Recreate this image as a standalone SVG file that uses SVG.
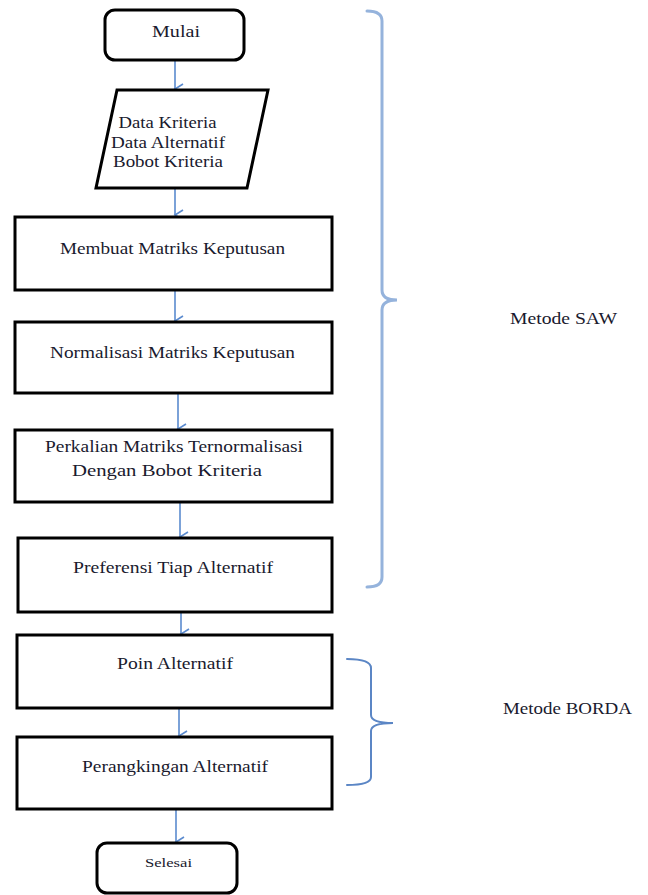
<svg xmlns="http://www.w3.org/2000/svg" width="648" height="895" viewBox="0 0 648 895">
<style>
.box{fill:#fff;stroke:#000;stroke-width:3}
.t{font-family:"Liberation Serif","Times New Roman",serif;font-size:17px;fill:#1a1a2e;text-anchor:middle}
.lbl{font-family:"Liberation Serif","Times New Roman",serif;font-size:17px;fill:#1a1a2e}
.arr{stroke:#5b8bcf;stroke-width:1.6;fill:none}
.brace{fill:none;stroke-linecap:round}
</style>
<defs>
<marker id="ah" viewBox="0 0 14 14" refX="7" refY="12" markerWidth="14" markerHeight="14" markerUnits="userSpaceOnUse" orient="auto-start-reverse">
<polyline points="2,4 7,12 12,4" fill="none" stroke="#5b8bcf" stroke-width="1.6"/>
</marker>
</defs>
<rect width="648" height="895" fill="#fff"/>
<g id="connectors">
<line class="arr" x1="175" y1="60" x2="175" y2="89" marker-end="url(#ah)"/>
<line class="arr" x1="175" y1="188" x2="175" y2="215" marker-end="url(#ah)"/>
<line class="arr" x1="175" y1="291" x2="175" y2="321" marker-end="url(#ah)"/>
<line class="arr" x1="178" y1="394" x2="178" y2="429" marker-end="url(#ah)"/>
<line class="arr" x1="180" y1="503" x2="180" y2="537" marker-end="url(#ah)"/>
<line class="arr" x1="181" y1="613" x2="181" y2="634" marker-end="url(#ah)"/>
<line class="arr" x1="179" y1="709" x2="179" y2="736" marker-end="url(#ah)"/>
<line class="arr" x1="176" y1="810" x2="176" y2="842" marker-end="url(#ah)"/>
</g>
<g id="mulai">
<rect class="box" x="105" y="10" width="139" height="50" rx="10"/>
<text class="t" x="176" y="37" textLength="48" lengthAdjust="spacingAndGlyphs">Mulai</text>
</g>
<g id="input">
<polygon class="box" points="117,90 268,90 247,188 96,188"/>
<text class="t" x="167.5" y="128" textLength="98" lengthAdjust="spacingAndGlyphs">Data Kriteria</text>
<text class="t" x="168" y="148" textLength="114" lengthAdjust="spacingAndGlyphs">Data Alternatif</text>
<text class="t" x="168" y="167" textLength="110" lengthAdjust="spacingAndGlyphs">Bobot Kriteria</text>
</g>
<g id="membuat">
<rect class="box" x="15" y="217" width="317" height="73"/>
<text class="t" x="172.5" y="254" textLength="225" lengthAdjust="spacingAndGlyphs">Membuat Matriks Keputusan</text>
</g>
<g id="normalisasi">
<rect class="box" x="15" y="322" width="317" height="71"/>
<text class="t" x="172.5" y="358" textLength="245" lengthAdjust="spacingAndGlyphs">Normalisasi Matriks Keputusan</text>
</g>
<g id="perkalian">
<rect class="box" x="15" y="430" width="317" height="72"/>
<text class="t" x="174" y="452" textLength="258" lengthAdjust="spacingAndGlyphs">Perkalian Matriks Ternormalisasi</text>
<text class="t" x="167" y="476" textLength="190" lengthAdjust="spacingAndGlyphs">Dengan Bobot Kriteria</text>
</g>
<g id="preferensi">
<rect class="box" x="18" y="538" width="314" height="74"/>
<text class="t" x="173" y="573" textLength="200" lengthAdjust="spacingAndGlyphs">Preferensi Tiap Alternatif</text>
</g>
<g id="poin">
<rect class="box" x="17" y="635" width="315" height="73"/>
<text class="t" x="175" y="669" textLength="116" lengthAdjust="spacingAndGlyphs">Poin Alternatif</text>
</g>
<g id="perangkingan">
<rect class="box" x="17" y="737" width="315" height="72"/>
<text class="t" x="175" y="772" textLength="186" lengthAdjust="spacingAndGlyphs">Perangkingan Alternatif</text>
</g>
<g id="selesai">
<rect class="box" x="97" y="843" width="140" height="50" rx="10"/>
<text class="t" x="168.5" y="867" style="font-size:12px" textLength="47" lengthAdjust="spacingAndGlyphs">Selesai</text>
</g>
<g id="saw">
<path class="brace" stroke="#95b3dc" stroke-width="3" d="M367,11 Q382,11 382,21 L382,290 Q382,300 397,300 Q382,300 382,310 L382,577 Q382,587 367,587"/>
<text class="lbl" x="510" y="324" textLength="107" lengthAdjust="spacingAndGlyphs">Metode SAW</text>
</g>
<g id="borda">
<path class="brace" stroke="#5b86c5" stroke-width="2" d="M347,659 Q371,659 371,668 L371,715 Q371,723 393,723 Q371,723 371,731 L371,777 Q371,785 347,785"/>
<text class="lbl" x="503" y="714" textLength="129" lengthAdjust="spacingAndGlyphs">Metode BORDA</text>
</g>
</svg>
